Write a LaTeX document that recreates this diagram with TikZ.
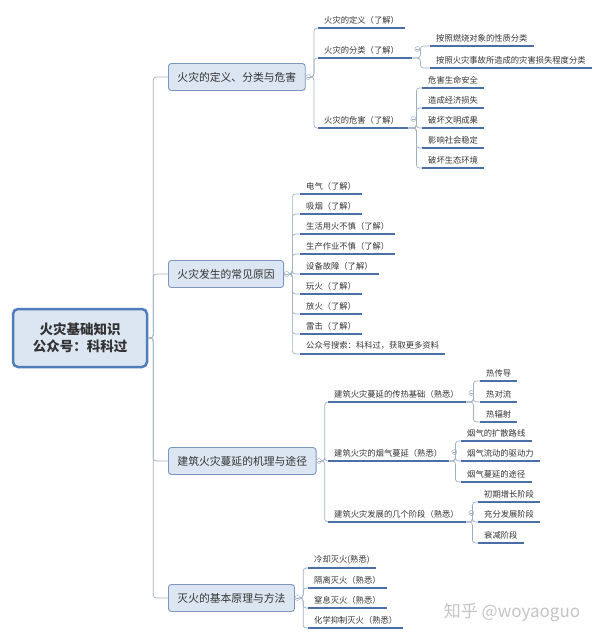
\documentclass[tikz,border=0pt]{standalone}
\usepackage{fontspec}
\setmainfont{Noto Sans CJK SC}
\usepackage{tikz}
\definecolor{boxfill}{HTML}{DCE6F2}
\definecolor{boxline}{HTML}{7A96BE}
\definecolor{rootline}{HTML}{4F7DBA}
\definecolor{ulblue}{HTML}{4A6EA6}
\definecolor{linkgray}{HTML}{9FB0C5}
\definecolor{txt}{HTML}{333333}
\definecolor{wmgray}{HTML}{C4C4C4}

\begin{document}
\begin{tikzpicture}[
		x=1pt, y=-1pt,
		every node/.style={text=txt},
		root/.style={draw=rootline, line width=2.5pt, fill=boxfill, rounded corners=5pt, minimum width=134pt, minimum height=58pt, align=center, font=\fontsize{13.5}{17}\selectfont\bfseries},
		topic/.style={draw=boxline, line width=0.9pt, fill=boxfill, rounded corners=3pt, anchor=west, minimum height=27pt, inner xsep=9pt, font=\fontsize{10.8}{13}\selectfont},
		leaf/.style={anchor=south west, inner xsep=6pt, inner ysep=4pt, font=\fontsize{8.3}{10}\selectfont,
			append after command={(\tikzlastnode.south west) edge[draw=ulblue, line width=1.5pt] (\tikzlastnode.south east)}},
		hub/.style={leaf, text width=#1, align=left},
		fold/.style={circle, draw=linkgray, fill=white, line width=0.5pt, minimum size=5pt, inner sep=0pt,
			path picture={\draw[linkgray, line width=0.5pt] ([xshift=-1.5pt]path picture bounding box.center) -- ([xshift=1.5pt]path picture bounding box.center);}},
		link/.style={draw=linkgray, line width=0.7pt, rounded corners=3pt, to path={-- ++(#1,0) |- (\tikztotarget)}},
		link/.default=8
	]
  \useasboundingbox (0, 0) rectangle (600, 639);

  % centre and main topics
  \node (root) [root] at (80, 338) {火灾基础知识\\公众号：科科过};
  \node (b_1) [topic] at (168, 77) {火灾的定义、分类与危害};
  \node (b_2) [topic] at (168, 274) {火灾发生的常见原因};
  \node (b_3) [topic] at (168, 461) {建筑火灾蔓延的机理与途径};
  \node (b_4) [topic] at (168, 598) {灭火的基本原理与方法};
  \draw (root.east) edge [link=5] (b_1.west) edge [link=5] (b_2.west)
    edge [link=5] (b_3.west) edge [link=5] (b_4.west);
  \node (m_1) [fold] at ([xshift=2.5pt]b_1.east) {};
  \node (m_2) [fold] at ([xshift=2.5pt]b_2.east) {};
  \node (m_3) [fold] at ([xshift=2.5pt]b_3.east) {};
  \node (m_4) [fold] at ([xshift=2.5pt]b_4.east) {};

  % 火灾的定义、分类与危害
  \node (c_11) [leaf] at (318, 28) {火灾的定义（了解）};
  \node (c_12) [hub=82pt] at (318, 58) {火灾的分类（了解）};
  \node (c_13) [hub=78pt] at (318, 128) {火灾的危害（了解）};
  \draw (m_1.east) edge [link=3] (c_11.south west) edge [link=3] (c_12.south west)
    edge [link=3] (c_13.south west);
  \node (m_12) [fold] at ([shift={(5pt,9pt)}]c_12.south east) {};
  \node (d_121) [leaf] at (430, 46) {按照燃烧对象的性质分类};
  \node (d_122) [leaf] at (430, 68) {按照火灾事故所造成的灾害损失程度分类};
  \draw (c_12.south east) edge [link] (d_121.south west) edge [link] (d_122.south west);
  \node (m_13) [fold] at ([shift={(5pt,9pt)}]c_13.south east) {};
  \node (d_131) [leaf] at (422, 88) {危害生命安全};
  \node (d_132) [leaf] at (422, 108) {造成经济损失};
  \node (d_133) [leaf] at (422, 128) {破坏文明成果};
  \node (d_134) [leaf] at (422, 148) {影响社会稳定};
  \node (d_135) [leaf] at (422, 168) {破坏生态环境};
  \draw (c_13.south east) edge [link] (d_131.south west) edge [link] (d_132.south west)
    edge [link] (d_133.south west) edge [link] (d_134.south west) edge [link] (d_135.south west);

  % 火灾发生的常见原因
  \node (c_21) [leaf] at (300, 194) {电气（了解）};
  \node (c_22) [leaf] at (300, 214) {吸烟（了解）};
  \node (c_23) [leaf] at (300, 234) {生活用火不慎（了解）};
  \node (c_24) [leaf] at (300, 254) {生产作业不慎（了解）};
  \node (c_25) [leaf] at (300, 274) {设备故障（了解）};
  \node (c_26) [leaf] at (300, 294) {玩火（了解）};
  \node (c_27) [leaf] at (300, 314) {放火（了解）};
  \node (c_28) [leaf] at (300, 334) {雷击（了解）};
  \node (c_29) [leaf] at (300, 354) {公众号搜索：科科过，获取更多资料};
  \draw (m_2.east) edge [link=3] (c_21.south west) edge [link=3] (c_22.south west)
    edge [link=3] (c_23.south west) edge [link=3] (c_24.south west) edge [link=3] (c_25.south west)
    edge [link=3] (c_26.south west) edge [link=3] (c_27.south west) edge [link=3] (c_28.south west)
    edge [link=3] (c_29.south west);

  % 建筑火灾蔓延的机理与途径
  \node (c_31) [hub=126pt] at (328, 402) {建筑火灾蔓延的传热基础（熟悉）};
  \node (c_32) [hub=109pt] at (328, 461) {建筑火灾的烟气蔓延（熟悉）};
  \node (c_33) [hub=126pt] at (328, 522) {建筑火灾发展的几个阶段（熟悉）};
  \draw (m_3.east) edge [link=3] (c_31.south west) edge [link=3] (c_32.south west)
    edge [link=3] (c_33.south west);
  \node (m_31) [fold] at ([shift={(5pt,9pt)}]c_31.south east) {};
  \node (d_311) [leaf] at (480, 381) {热传导};
  \node (d_312) [leaf] at (480, 402) {热对流};
  \node (d_313) [leaf] at (480, 422) {热辐射};
  \draw (c_31.south east) edge [link=7] (d_311.south west) edge [link=7] (d_312.south west)
    edge [link=7] (d_313.south west);
  \node (m_32) [fold] at ([shift={(5pt,9pt)}]c_32.south east) {};
  \node (d_321) [leaf] at (461, 441) {烟气的扩散路线};
  \node (d_322) [leaf] at (461, 461) {烟气流动的驱动力};
  \node (d_323) [leaf] at (461, 482) {烟气蔓延的途径};
  \draw (c_32.south east) edge [link=6] (d_321.south west) edge [link=6] (d_322.south west)
    edge [link=6] (d_323.south west);
  \node (m_33) [fold] at ([shift={(5pt,9pt)}]c_33.south east) {};
  \node (d_331) [leaf] at (478, 502) {初期增长阶段};
  \node (d_332) [leaf] at (478, 522) {充分发展阶段};
  \node (d_333) [leaf] at (478, 543) {衰减阶段};
  \draw (c_33.south east) edge [link=6] (d_331.south west) edge [link=6] (d_332.south west)
    edge [link=6] (d_333.south west);

  % 灭火的基本原理与方法
  \node (c_41) [leaf] at (308, 568) {冷却灭火(熟悉)};
  \node (c_42) [leaf] at (308, 588) {隔离灭火（熟悉）};
  \node (c_43) [leaf] at (308, 608) {窒息灭火（熟悉）};
  \node (c_44) [leaf] at (308, 628) {化学抑制灭火（熟悉）};
  \draw (m_4.east) edge [link=3] (c_41.south west) edge [link=3] (c_42.south west)
    edge [link=3] (c_43.south west) edge [link=3] (c_44.south west);

  \node (mark) [text=wmgray, font=\fontsize{17}{20}\selectfont] at (512, 612) {知乎 @woyaoguo};
\end{tikzpicture}
\end{document}
